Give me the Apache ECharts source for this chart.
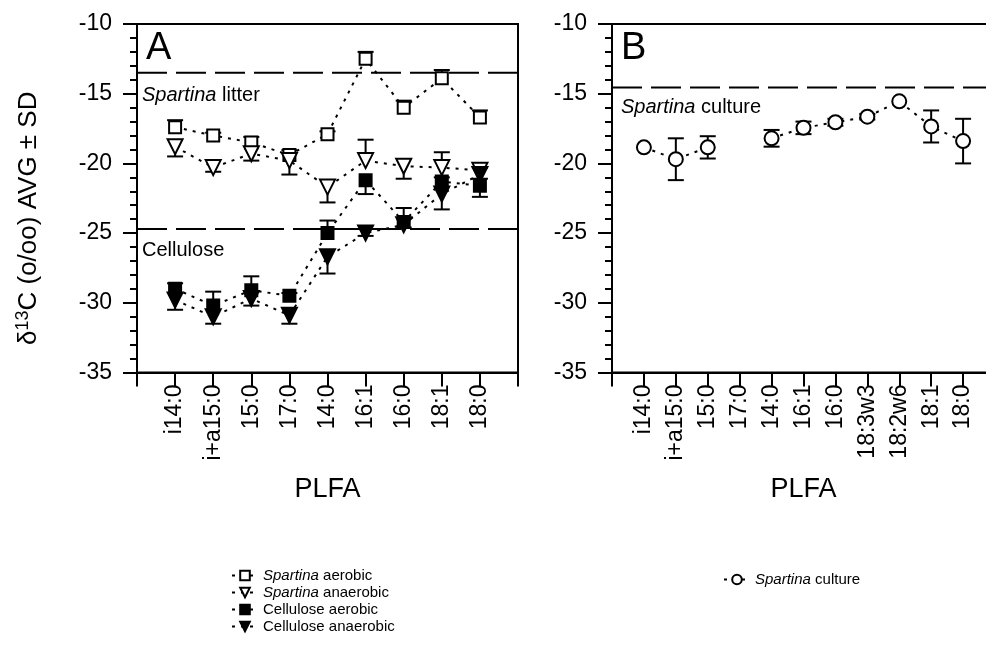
<!DOCTYPE html>
<html>
<head>
<meta charset="utf-8">
<script src="https://cdn.jsdelivr.net/npm/echarts@6/dist/echarts.min.js"></script>
<style>
html,body{margin:0;padding:0;background:#fff;}
#c{width:986px;height:646px;}
</style>
</head>
<body>
<div id="c"></div>
<script>
// ---------- data ----------
const catsA = ['i14:0','i+a15:0','15:0','17:0','14:0','16:1','16:0','18:1','18:0'];
const catsB = ['i14:0','i+a15:0','15:0','17:0','14:0','16:1','16:0','18:3w3','18:2w6','18:1','18:0'];
const yTicks = [-35,-30,-25,-20,-15,-10];

const spAer     = [-17.4,-18.0,-18.5,-19.4,-17.9,-12.5,-16.0,-13.9,-16.7];
const spAerSD   = [0.5,0.2,0.4,0.35,0.2,0.5,0.5,0.6,0.5];
const spAerDir  = [1,1,1,1,1,1,1,1,1];

const spAna     = [-18.8,-20.3,-19.3,-19.8,-21.7,-19.8,-20.2,-20.3,-20.5];
const spAnaSD   = [0.7,0.3,0.5,1.0,1.1,1.5,0.9,1.1,0.2];
const spAnaDir  = [-1,-1,-1,-1,-1,1,-1,1,1];

const celAer    = [-29.0,-30.2,-29.1,-29.5,-25.0,-21.2,-24.2,-21.3,-21.6];
const celAerSD  = [0.4,1.0,1.0,0.2,0.9,1.0,1.0,0.3,0.8];
const celAerDir = [1,1,1,1,1,-1,1,1,-1];

const celAna    = [-29.8,-31.0,-29.7,-30.9,-26.7,-25.0,-24.4,-22.2,-20.8];
const celAnaSD  = [0.7,0.5,0.5,0.6,1.2,0.2,0.2,1.1,0.3];
const celAnaDir = [-1,-1,-1,-1,-1,-1,-1,-1,-1];

const spCul     = [-18.85,-19.7,-18.85,null,-18.2,-17.45,-17.05,-16.65,-15.55,-17.35,-18.4];
const spCulSD   = [0,1.5,0.8,null,0.6,0.45,0.25,0.2,0,1.15,1.6];

const refA = [-13.5,-24.7];
const refB = [-14.55];

// ---------- helpers ----------
const pad = arr => [' '].concat(arr, ['  ']);
const padV = arr => [null].concat(arr, [null]);

function errData(vals, sds, dirs){
  const out = [];
  vals.forEach((v,i)=>{ if(v!=null && sds[i]) out.push([i+1, v, sds[i], dirs ? dirs[i] : 0]); });
  return out;
}
function errSeries(xi, yi, data){
  return {
    type:'custom', xAxisIndex:xi, yAxisIndex:yi, z:1, silent:true,
    data:data,
    renderItem:function(params, api){
      const x = api.value(0), v = api.value(1), sd = api.value(2), dir = api.value(3);
      const hiV = dir < 0 ? v : v + sd;
      const loV = dir > 0 ? v : v - sd;
      const p0 = api.coord([x, v]);
      const hi = api.coord([x, hiV]);
      const lo = api.coord([x, loV]);
      const hw = 8;
      const children = [{type:'line', shape:{x1:p0[0],y1:hi[1],x2:p0[0],y2:lo[1]}, style:{stroke:'#000',lineWidth:2}}];
      if(dir >= 0) children.push({type:'line', shape:{x1:p0[0]-hw,y1:hi[1],x2:p0[0]+hw,y2:hi[1]}, style:{stroke:'#000',lineWidth:2}});
      if(dir <= 0) children.push({type:'line', shape:{x1:p0[0]-hw,y1:lo[1],x2:p0[0]+hw,y2:lo[1]}, style:{stroke:'#000',lineWidth:2}});
      return {type:'group', children:children};
    }
  };
}
function lineSeries(name, xi, yi, vals, symbol, filled, rot, size){
  return {
    name:name, type:'line', xAxisIndex:xi, yAxisIndex:yi, z:3,
    data:padV(vals), connectNulls:false,
    symbol:symbol, symbolSize:size, symbolRotate:rot, showAllSymbol:true,
    lineStyle:{color:'#000', width:2, type:[3,6]},
    itemStyle:{color: filled ? '#000' : '#fff', borderColor:'#000', borderWidth:2},
    emphasis:{disabled:true}
  };
}
function refLine(xi, yi, n, val){
  const d = [];
  for(let i=0;i<n;i++) d.push(val);
  return {
    type:'line', xAxisIndex:xi, yAxisIndex:yi, z:0, silent:true, symbol:'none',
    data:d, lineStyle:{color:'#000', width:2, type:[30,9]}
  };
}

const FF = 'Liberation Sans, Arial, sans-serif';
const tickFont = {fontFamily:FF, fontSize:23, color:'#000'};

function yAx(gi){
  return {
    type:'value', gridIndex:gi, min:-35, max:-10, interval:5,
    axisLine:{show:true, lineStyle:{color:'#000', width:2}},
    axisTick:{show:true, inside:false, length:14, lineStyle:{color:'#000', width:2}},
    minorTick:{show:true, splitNumber:5, length:7, lineStyle:{color:'#000', width:2}},
    splitLine:{show:false},
    axisLabel:Object.assign({margin:25}, tickFont)
  };
}
function xAx(gi, cats){
  return {
    type:'category', gridIndex:gi, boundaryGap:false, data:pad(cats),
    axisLine:{show:true, lineStyle:{color:'#000', width:2}},
    axisTick:{show:true, inside:false, length:14, interval:0, lineStyle:{color:'#000', width:2}},
    axisLabel:Object.assign({rotate:90, interval:0, margin:12}, tickFont),
    splitLine:{show:false},
    name:'PLFA', nameLocation:'middle', nameGap:104,
    nameTextStyle:{fontFamily:FF, fontSize:27, color:'#000'}
  };
}

const nA = catsA.length + 2, nB = catsB.length + 2;

const chart = echarts.init(document.getElementById('c'), null, {renderer:'canvas'});
const legendRich = {i:{fontStyle:'italic', fontFamily:FF, fontSize:15, color:'#000'}};
chart.setOption({
  backgroundColor:'#fff',
  animation:false,
  grid:[
    {left:137, top:24, width:381, height:348.5, show:true, borderColor:'#000', borderWidth:2, backgroundColor:'transparent', containLabel:false, outerBoundsMode:'none'},
    {left:612, top:24, width:383, height:348.5, show:true, borderColor:'#000', borderWidth:2, backgroundColor:'transparent', containLabel:false, outerBoundsMode:'none'}
  ],
  xAxis:[xAx(0, catsA), xAx(1, catsB)],
  yAxis:[yAx(0), yAx(1)],
  legend:[
    {data:['Spartina aerobic','Spartina anaerobic','Cellulose aerobic','Cellulose anaerobic'],
     orient:'vertical', left:226, top:563, itemGap:2, itemWidth:26, itemHeight:12,
     formatter:n=>n.replace('Spartina','{i|Spartina}'),
     textStyle:{fontFamily:FF, fontSize:15, color:'#000', rich:legendRich}},
    {data:['Spartina culture'],
     orient:'vertical', left:718, top:567, itemWidth:26, itemHeight:12,
     formatter:n=>n.replace('Spartina','{i|Spartina}'),
     textStyle:{fontFamily:FF, fontSize:15, color:'#000', rich:legendRich}}
  ],
  graphic:[
    {type:'text', left:146, top:30, style:{text:'A', font:'38px ' + FF, fill:'#000'}},
    {type:'text', left:621, top:30, style:{text:'B', font:'38px ' + FF, fill:'#000'}},
    {type:'text', left:142, top:85, style:{text:'{i|Spartina} litter', font:'20px ' + FF, fill:'#000',
       rich:{i:{fontStyle:'italic', fontSize:20, fontFamily:FF}}}},
    {type:'text', left:142, top:240, style:{text:'Cellulose', font:'20px ' + FF, fill:'#000'}},
    {type:'text', left:621, top:97, style:{text:'{i|Spartina} culture', font:'20px ' + FF, fill:'#000',
       rich:{i:{fontStyle:'italic', fontSize:20, fontFamily:FF}}}},
    {type:'text', x:14, y:345, rotation:Math.PI/2,
     style:{text:'{d|δ}{s|13}{n|C (o/oo) AVG ± SD}', fill:'#000',
       rich:{
         d:{fontSize:26, fontFamily:FF, verticalAlign:'bottom'},
         s:{fontSize:18, fontFamily:FF, verticalAlign:'top', padding:[0,0,10,0]},
         n:{fontSize:26, fontFamily:FF, verticalAlign:'bottom'}
       }}}
  ],
  series:[
    refLine(0,0,nA,refA[0]), refLine(0,0,nA,refA[1]), refLine(1,1,nB,refB[0]),
    errSeries(0,0,errData(spAer,spAerSD,spAerDir)),
    errSeries(0,0,errData(spAna,spAnaSD,spAnaDir)),
    errSeries(0,0,errData(celAer,celAerSD,celAerDir)),
    errSeries(0,0,errData(celAna,celAnaSD,celAnaDir)),
    errSeries(1,1,errData(spCul,spCulSD,null)),
    lineSeries('Spartina aerobic',0,0,spAer,'rect',false,0,12),
    lineSeries('Spartina anaerobic',0,0,spAna,'triangle',false,180,15),
    lineSeries('Cellulose aerobic',0,0,celAer,'rect',true,0,12),
    lineSeries('Cellulose anaerobic',0,0,celAna,'triangle',true,180,15),
    lineSeries('Spartina culture',1,1,spCul,'circle',false,0,14)
  ]
});
</script>
</body>
</html>
